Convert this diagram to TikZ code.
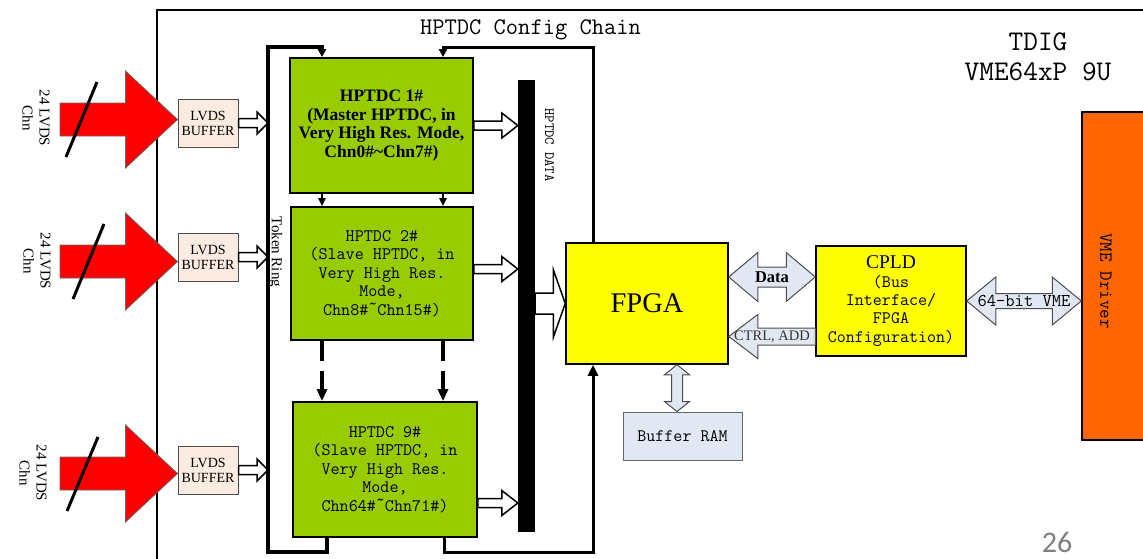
\documentclass[tikz,border=0pt]{standalone}
\usepackage{fontspec}
\setmainfont{Liberation Serif}
\newfontfamily\pagefont{Carlito}
\usetikzlibrary{calc,arrows.meta}
\definecolor{tdcgreen}{HTML}{99CC00}
\definecolor{peach}{HTML}{FBEBE1}
\definecolor{paleblue}{HTML}{E1E8F3}
\definecolor{vmeorange}{HTML}{FF6600}
\definecolor{fpgayellow}{HTML}{FFFF00}
\newcommand\fz[2]{\fontsize{#1}{#2}\selectfont}
\newcommand\stil{\raisebox{0.3em}[0pt][0pt]{\textasciitilde}}
% single block arrow: [style]{start}{apex}{shaft half}{head half}{head length}
\newcommand\sarrow[6][]{%
  \coordinate (aH) at ($#3!#6!#2$);
  \draw[#1] ($#2!#4!90:#3$) -- ($(aH)!#4!90:#3$) -- ($(aH)!#5!90:#3$) -- #3
    -- ($(aH)!#5!-90:#3$) -- ($(aH)!#4!-90:#3$) -- ($#2!#4!-90:#3$) -- cycle;}
% double block arrow: [style]{apex A}{apex B}{shaft half}{head half}{head length}
\newcommand\darrow[6][]{%
  \coordinate (aH1) at ($#2!#6!#3$);
  \coordinate (aH2) at ($#3!#6!#2$);
  \draw[#1] #2 -- ($(aH1)!#5!90:#3$) -- ($(aH1)!#4!90:#3$) -- ($(aH2)!#4!90:#3$)
    -- ($(aH2)!#5!90:#3$) -- #3 -- ($(aH2)!#5!-90:#3$) -- ($(aH2)!#4!-90:#3$)
    -- ($(aH1)!#4!-90:#3$) -- ($(aH1)!#5!-90:#3$) -- cycle;}
\begin{document}
\begin{tikzpicture}[x=1pt,y=-1pt,
  box/.style={draw=black,line width=1.5pt,inner sep=0pt,align=center},
  buf/.style={box,fill=peach,line width=1pt,draw=black!70,minimum width=60pt,minimum height=48pt,font=\fz{14}{15}},
  tdc/.style={box,fill=tdcgreen,line width=1.8pt},
  hollow/.style={draw=black,fill=white,line width=1.5pt,line join=miter},
  pale/.style={draw=black!70,fill=paleblue,line width=1pt,line join=miter},
  redarrow/.style={draw=black!60,fill=red,line width=0.8pt,line join=miter},
  ring/.style={line width=3.5pt,line join=miter,-{Triangle[length=8pt,width=8pt]}},
  chain/.style={line width=3pt,line join=miter},
  side/.style={rotate=-90,align=center,font=\fz{15}{17}}]
\useasboundingbox (0,0) rectangle (1143,558);

% frame
\draw[line width=2pt] (157,562) -- (157,10) -- (1146,10);

% helper coordinates
\coordinate (xa) at (322,0);
\coordinate (xb) at (443,0);
\coordinate (xc) at (327,0);
\coordinate (xd) at (444,0);
\coordinate (ringx) at (268,0);
\coordinate (chx) at (593,0);
\coordinate (topy) at (0,47);
\coordinate (boty) at (0,552);

% nodes
\node[buf] (b1) at (208,123) {LVDS\\BUFFER};
\node[buf] (b2) at (208,257) {LVDS\\BUFFER};
\node[buf] (b3) at (208,470) {LVDS\\BUFFER};

\node[tdc,minimum width=183pt,minimum height=135pt,font=\bfseries\fz{17.5}{18.5}] (h1) at (381.5,125.5)
  {HPTDC 1\#\\(Master HPTDC, in\\Very High Res. Mode,\\Chn0\#\textasciitilde Chn7\#)};
\node[tdc,minimum width=182pt,minimum height=133pt,font=\ttfamily\fz{17.6}{18.4}] (h2) at (382,273.5)
  {HPTDC 2\#\\(Slave HPTDC, in\\Very High Res.\\Mode,\\Chn8\#\stil Chn15\#)};
\node[tdc,minimum width=184pt,minimum height=135pt,font=\ttfamily\fz{17.6}{18.4}] (h9) at (385,469.5)
  {HPTDC 9\#\\(Slave HPTDC, in\\Very High Res.\\Mode,\\Chn64\#\stil Chn71\#)};

\node[fill=black,minimum width=17pt,minimum height=452pt,inner sep=0pt] (bus) at (526.5,306) {};
\node[box,fill=fpgayellow,minimum width=162pt,minimum height=121pt,font=\fz{28.5}{30}] (fpga) at (647,303.5) {FPGA};
\node[box,fill=paleblue,draw=black!60,line width=1pt,minimum width=119pt,minimum height=48pt,font=\ttfamily\fz{17.5}{18}] (ram) at (682.5,436) {Buffer RAM};
\node[box,fill=fpgayellow,minimum width=150pt,minimum height=110pt,font=\ttfamily\fz{17.5}{18.4}] (cpld) at (891,301)
  {{\rmfamily\fz{19.5}{18}CPLD}\\(Bus\\Interface/\\FPGA\\Configuration)};
\node[box,fill=vmeorange,minimum width=64pt,minimum height=328pt] (vme) at (1114,276) {};
\node[rotate=-90,font=\ttfamily\fz{18.5}{20}] (vmelab) at (1106,281) {VME Driver};

% texts
\node[font=\ttfamily\fz{23.8}{25}] (cfg) at (530.5,30) {HPTDC Config Chain};
\node[font=\ttfamily\fz{28.5}{30.5},align=center] (tdig) at (1038,57) {TDIG\\VME64xP 9U};
\node[rotate=-90,font=\ttfamily\fz{14.2}{16}] (buslab) at (549.5,145) {HPTDC DATA};
\node[side] (trlab) at (275.5,252) {Token Ring};
\node[side] (l1) at (36,118) {24 LVDS\\Chn};
\node[side] (l2) at (37,261) {24 LVDS\\Chn};
\node[side] (l3) at (33,473) {24 LVDS\\Chn};
\node[font=\pagefont\fz{30}{32},text=black!50,inner sep=0pt] (pg) at (1057,542.5) {26};

% red input arrows
\coordinate (r1s) at (60,119.5);  \coordinate (r1t) at (b1.west |- r1s);
\coordinate (r2s) at (60,261.5);  \coordinate (r2t) at (b2.west |- r2s);
\coordinate (r3s) at (60,473.5);  \coordinate (r3t) at (b3.west |- r3s);
\sarrow[redarrow]{(r1s)}{(r1t)}{16.5pt}{48.5pt}{52pt}
\sarrow[redarrow]{(r2s)}{(r2t)}{16.5pt}{48.5pt}{52pt}
\sarrow[redarrow]{(r3s)}{(r3t)}{16.5pt}{48.5pt}{52pt}
\draw[line width=3pt] (97,82) -- (66,157);
\draw[line width=3pt] (104,224) -- (73,299);
\draw[line width=3pt] (98,437) -- (67,511);

% buffer -> token ring
\coordinate (e1) at (b1.east -| ringx);
\coordinate (e2) at (b2.east -| ringx);
\coordinate (e3) at (b3.east -| ringx);
\sarrow[hollow]{(b1.east)}{(e1)}{4.5pt}{11pt}{11pt}
\sarrow[hollow]{(b2.east)}{(e2)}{4.5pt}{11pt}{11pt}
\sarrow[hollow]{(b3.east)}{(e3)}{4.5pt}{11pt}{11pt}

% token ring
\draw[ring] (h9.south -| xc) -- (xc |- boty) -- (ringx |- boty) -- (ringx |- topy) -- (xa |- topy) -- (h1.north -| xa);
% config chain
\draw[chain,-{Triangle[length=11pt,width=10pt]}] (h9.south -| xd) -- (xd |- boty) -- (chx |- boty) -- (fpga.south -| chx);
\draw[chain,-{Triangle[length=8pt,width=8pt]}] (fpga.north -| chx) -- (chx |- topy) -- (xb |- topy) -- (h1.north -| xb);

% HPTDC1 -> HPTDC2
\draw[line width=2pt,-{Triangle[length=8pt,width=7pt]}] (h1.south -| xa) -- (h2.north -| xa);
\draw[line width=2pt,-{Triangle[length=8pt,width=7pt]}] (h1.south -| xb) -- (h2.north -| xb);
% HPTDC2 -> HPTDC9 (dashed)
\draw[line width=3.5pt,dash pattern=on 20pt off 10pt,-{Triangle[length=12pt,width=10pt]}] (h2.south -| xa) -- (h9.north -| xa);
\draw[line width=3.5pt,dash pattern=on 20pt off 10pt,-{Triangle[length=12pt,width=10pt]}] (h2.south -| xb) -- (h9.north -| xb);

% HPTDC -> bus
\coordinate (h1s) at (h1.east);
\coordinate (h2s) at ($(h2.east)+(0,-4.5)$);
\coordinate (h9s) at ($(h9.east)+(0,33.5)$);
\coordinate (h1t) at (h1s -| bus.west);
\coordinate (h2t) at (h2s -| bus.west);
\coordinate (h9t) at (h9s -| bus.west);
\sarrow[hollow]{(h1s)}{(h1t)}{4.5pt}{12.5pt}{16pt}
\sarrow[hollow]{(h2s)}{(h2t)}{4.5pt}{12.5pt}{16pt}
\sarrow[hollow]{(h9s)}{(h9t)}{4.5pt}{12.5pt}{16pt}

% bus -> FPGA
\coordinate (fw) at (fpga.west -| bus.east);
\sarrow[hollow]{(fw)}{(fpga.west)}{10.5pt}{34pt}{12pt}

% FPGA <-> CPLD data
\coordinate (dA) at ($(fpga.east)+(0,-26.5)$);
\coordinate (dB) at (dA -| cpld.west);
\darrow[pale]{(dA)}{(dB)}{10pt}{24.5pt}{29pt}
\node[font=\bfseries\fz{16.5}{18}] (datalab) at ($(dA)!0.5!(dB)$) {Data};
% CPLD -> FPGA ctrl
\coordinate (cA) at ($(cpld.west)+(0,35.5)$);
\coordinate (cB) at (cA -| fpga.east);
\sarrow[pale]{(cA)}{(cB)}{8.5pt}{22pt}{29pt}
\node[font=\fz{14.5}{16},text=black!80,inner sep=0pt] (ctrllab) at ($(cA)!0.5!(cB)$) {CTRL, ADD};
% CPLD <-> VME
\coordinate (vA) at (cpld.east);
\coordinate (vB) at (cpld.east -| vme.west);
\darrow[pale]{(vA)}{(vB)}{7.5pt}{24pt}{29pt}
\node[font=\ttfamily\fz{18}{18},inner sep=0pt] (vmebus) at ($(vA)!0.5!(vB)$) {64-bit VME};
% FPGA <-> RAM
\coordinate (rA) at ($(ram.north)+(-5.5,0)$);
\coordinate (rB) at (rA |- fpga.south);
\darrow[pale]{(rB)}{(rA)}{5.5pt}{12.5pt}{10pt}

\end{tikzpicture}
\end{document}
